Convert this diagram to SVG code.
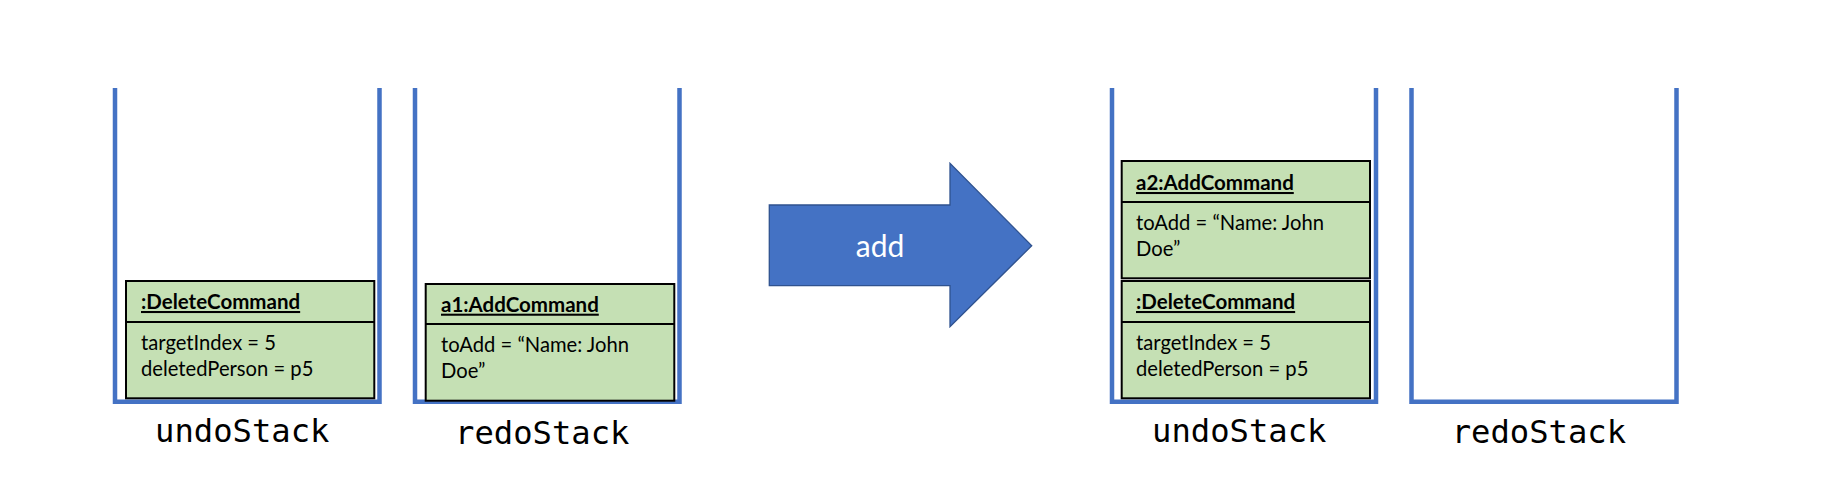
<svg xmlns="http://www.w3.org/2000/svg" width="1840" height="494" viewBox="0 0 1840 494">
<style>
.stack{fill:none;stroke:#4472C4;stroke-width:4.5}
.box{fill:#C5E0B4;stroke:#000;stroke-width:2}
.title{font-family:Lato,"Liberation Sans",sans-serif;font-weight:bold;font-size:20.5px;fill:#000;text-decoration:underline}
.attr{font-family:Lato,"Liberation Sans",sans-serif;font-size:20.2px;fill:#000}
.label{font-family:"DejaVu Sans Mono","Liberation Mono",monospace;font-size:32.2px;fill:#000}
.arrowtxt{font-family:Lato,"Liberation Sans",sans-serif;font-size:30px;fill:#fff}
</style>
<rect width="1840" height="494" fill="#fff"/>
<g id="undoStack1">
<path class="stack" d="M115,88 V401.7 H379.5 V88"/>
<text class="label" x="155" y="441.7">undoStack</text>
</g>
<g id="deleteCommand1">
<rect class="box" x="126" y="281" width="248.3" height="117.3"/>
<line class="box" x1="126" y1="322" x2="374.3" y2="322"/>
<text class="title" x="141" y="309">:DeleteCommand</text>
<text class="attr" x="141" y="350">targetIndex = 5</text>
<text class="attr" x="141" y="375.5">deletedPerson = p5</text>
</g>
<g id="redoStack1">
<path class="stack" d="M415,88 V401.7 H679.5 V88"/>
<text class="label" x="455" y="444.3">redoStack</text>
</g>
<g id="a1AddCommand">
<rect class="box" x="425.7" y="284" width="248.6" height="116.7"/>
<line class="box" x1="425.7" y1="324" x2="674.3" y2="324"/>
<text class="title" x="441" y="311.7">a1:AddCommand</text>
<text class="attr" x="441" y="351.7">toAdd = “Name: John</text>
<text class="attr" x="441" y="378">Doe”</text>
</g>
<g id="addArrow">
<path d="M769.3,205 H950 V163.3 L1031.7,245.7 L950,326.7 V285.7 H769.3 Z" fill="#4472C4" stroke="#2F528F" stroke-width="1.3"/>
<text class="arrowtxt" x="880" y="256.7" text-anchor="middle">add</text>
</g>
<g id="undoStack2">
<path class="stack" d="M1112,88 V401.7 H1376 V88"/>
<text class="label" x="1152" y="441.7">undoStack</text>
</g>
<g id="a2AddCommand">
<rect class="box" x="1121.7" y="161" width="248.3" height="117.3"/>
<line class="box" x1="1121.7" y1="202" x2="1370" y2="202"/>
<text class="title" x="1136" y="190">a2:AddCommand</text>
<text class="attr" x="1136" y="230">toAdd = “Name: John</text>
<text class="attr" x="1136" y="255.5">Doe”</text>
</g>
<g id="deleteCommand2">
<rect class="box" x="1121.7" y="281" width="248.3" height="117.3"/>
<line class="box" x1="1121.7" y1="322" x2="1370" y2="322"/>
<text class="title" x="1136" y="309">:DeleteCommand</text>
<text class="attr" x="1136" y="350">targetIndex = 5</text>
<text class="attr" x="1136" y="375.5">deletedPerson = p5</text>
</g>
<g id="redoStack2">
<path class="stack" d="M1411.5,88 V401.7 H1676.5 V88"/>
<text class="label" x="1451.7" y="443.3">redoStack</text>
</g>
<g id="connectors"></g>
</svg>
